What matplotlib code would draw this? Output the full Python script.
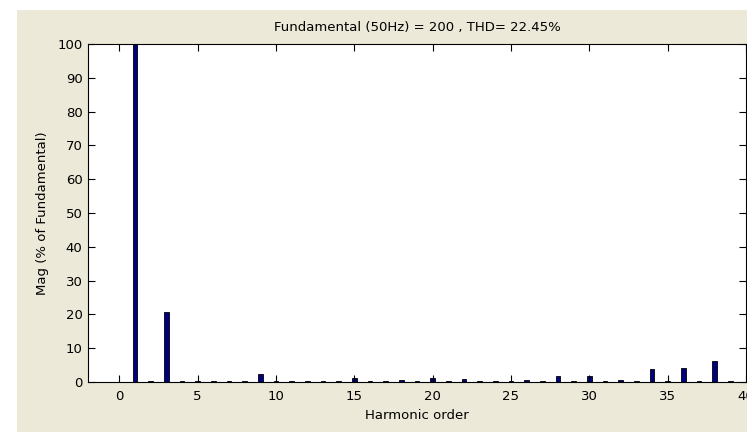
import matplotlib.pyplot as plt
from matplotlib.patches import Rectangle

harmonic_order = list(range(0, 40))
magnitude = [0.0, 100.0, 0.3, 20.6, 0.3, 0.2, 0.3, 0.3, 0.3, 2.4,
             0.2, 0.3, 0.3, 0.3, 0.3, 1.1, 0.3, 0.3, 0.7, 0.3,
             1.1, 0.3, 1.0, 0.3, 0.3, 0.2, 0.7, 0.3, 1.7, 0.3,
             1.7, 0.3, 0.7, 0.3, 3.7, 0.2, 4.1, 0.3, 6.2, 0.3]
xticks = [0, 5, 10, 15, 20, 25, 30, 35, 40]
yticks = [0, 10, 20, 30, 40, 50, 60, 70, 80, 90, 100]

W, H = 747, 432
fig = plt.figure(figsize=(W / 100, H / 100), dpi=100, facecolor='white')
# beige window area (screenshot has a white strip on top/left)
fig.patches.append(Rectangle((17 / W, 0), 1, (H - 10) / H, transform=fig.transFigure,
                             facecolor='#ECE9D8', edgecolor='none', zorder=-10))

ax = fig.add_axes([88 / W, 50 / H, 658 / W, 338 / H])
ax.bar(harmonic_order, magnitude, width=0.28, color='#000080', edgecolor='black', linewidth=0.6)

ax.set_xlim(-2, 40)
ax.set_ylim(0, 100)
ax.set_xticks(xticks)
ax.set_yticks(yticks)
ax.tick_params(direction='in', top=True, right=True, length=5, width=0.8,
               labelsize=9.5)
ax.tick_params(axis='x', pad=6)
ax.tick_params(axis='y', pad=4)
for s in ax.spines.values():
    s.set_linewidth(0.8)

ax.set_title('Fundamental (50Hz) = 200 , THD= 22.45%', fontsize=9.5, pad=9)
ax.set_xlabel('Harmonic order', fontsize=9.5, labelpad=4)
ax.set_ylabel('Mag (% of Fundamental)', fontsize=9.5, labelpad=6)

fig.savefig('out.png', dpi=100, facecolor=fig.get_facecolor())
